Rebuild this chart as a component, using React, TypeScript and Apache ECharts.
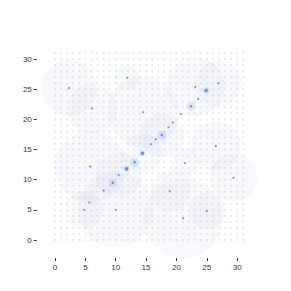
import React, { useEffect, useRef } from "react";
import * as echarts from "echarts";

const gridTicks = [0,1,2,3,4,5,6,7,8,9,10,11,12,13,14,15,16,17,18,19,20,21,22,23,24,25,26,27,28,29,30,31];
const axisTicks = [0, 5, 10, 15, 20, 25, 30];

const pointX = [2.3, 6.1, 11.9, 14.5, 23.1, 24.9, 26.9, 23.6, 22.4, 20.7, 19.4, 18.7, 17.6, 16.6, 15.8, 14.4, 13.1, 11.8, 10.5, 9.5, 8.0, 5.65, 4.8, 10.0, 5.8, 26.5, 21.4, 29.4, 18.9, 25.0, 21.1];
const pointY = [25.2, 21.8, 26.9, 21.2, 25.4, 24.8, 26.0, 23.4, 22.2, 20.9, 19.5, 18.7, 17.4, 16.7, 15.9, 14.4, 12.9, 11.8, 10.8, 9.5, 8.2, 6.2, 5.0, 5.0, 12.2, 15.6, 12.8, 10.3, 8.1, 4.8, 3.6];
const haloSize = [56, 50, 25, 72, 60, 0, 46, 0, 0, 0, 0, 0, 44, 0, 0, 40, 0, 0, 46, 0, 0, 0, 38, 76, 72, 50, 30, 48, 40, 37, 80];
const ringSize = [0, 0, 0, 0, 0, 7, 0, 0, 9, 0, 0, 0, 9, 0, 0, 6, 9, 7, 0, 8, 0, 0, 0, 0, 0, 0, 0, 0, 0, 0, 0];
const dotSize = [2.2, 2.2, 2.2, 2.2, 2.2, 3.5, 2.2, 2.2, 2.5, 2.2, 2.2, 2.2, 2.5, 2.2, 2.2, 3.5, 2.5, 3.5, 2.2, 2.5, 2.2, 2.2, 2.2, 2.2, 2.2, 2.2, 2.2, 2.2, 2.2, 2.2, 2.2];

export default function App() {
  const ref = useRef<HTMLDivElement>(null);
  useEffect(() => {
    const chart = echarts.init(ref.current!, null, { renderer: "svg" });
    const gridDots: number[][] = [];
    gridTicks.forEach((gx) => gridTicks.forEach((gy) => gridDots.push([gx, gy])));
    const halos = pointX.map((x, i) => [x, pointY[i], haloSize[i]]).filter((d) => d[2] > 0);
    const rings = pointX.map((x, i) => [x, pointY[i], ringSize[i]]).filter((d) => d[2] > 0);
    const dots = pointX.map((x, i) => [x, pointY[i], dotSize[i]]);
    const axisCommon = {
      type: "value" as const,
      min: -3,
      max: 31,
      splitLine: { show: false },
      axisLine: { show: false, onZero: false },
      axisTick: { show: true, length: 3, customValues: axisTicks, lineStyle: { color: "#333", width: 1 } },
      axisLabel: { customValues: axisTicks, fontSize: 8, color: "#333", margin: 5 },
    };
    chart.setOption({
      animation: false,
      grid: { left: 36.8, right: 47.8, top: 53.1, bottom: 32.9 },
      xAxis: { ...axisCommon },
      yAxis: { ...axisCommon },
      series: [
        {
          type: "scatter",
          data: gridDots,
          symbol: "circle",
          symbolSize: 2,
          silent: true,
          itemStyle: { color: "#e2e2e2" },
        },
        {
          type: "scatter",
          data: halos,
          symbolSize: (d: number[]) => d[2],
          clip: false,
          itemStyle: { color: "rgba(170,190,225,0.11)" },
        },
        {
          type: "scatter",
          data: rings,
          symbolSize: (d: number[]) => d[2],
          clip: false,
          itemStyle: { color: "rgba(110,150,215,0.24)" },
        },
        {
          type: "scatter",
          data: dots,
          symbolSize: (d: number[]) => d[2],
          clip: false,
          itemStyle: { color: "#4f7fd0" },
        },
      ],
    });
    return () => chart.dispose();
  }, []);
  return <div ref={ref} style={{ width: 291, height: 291, marginLeft: -8, marginTop: -8 }} />;
}
